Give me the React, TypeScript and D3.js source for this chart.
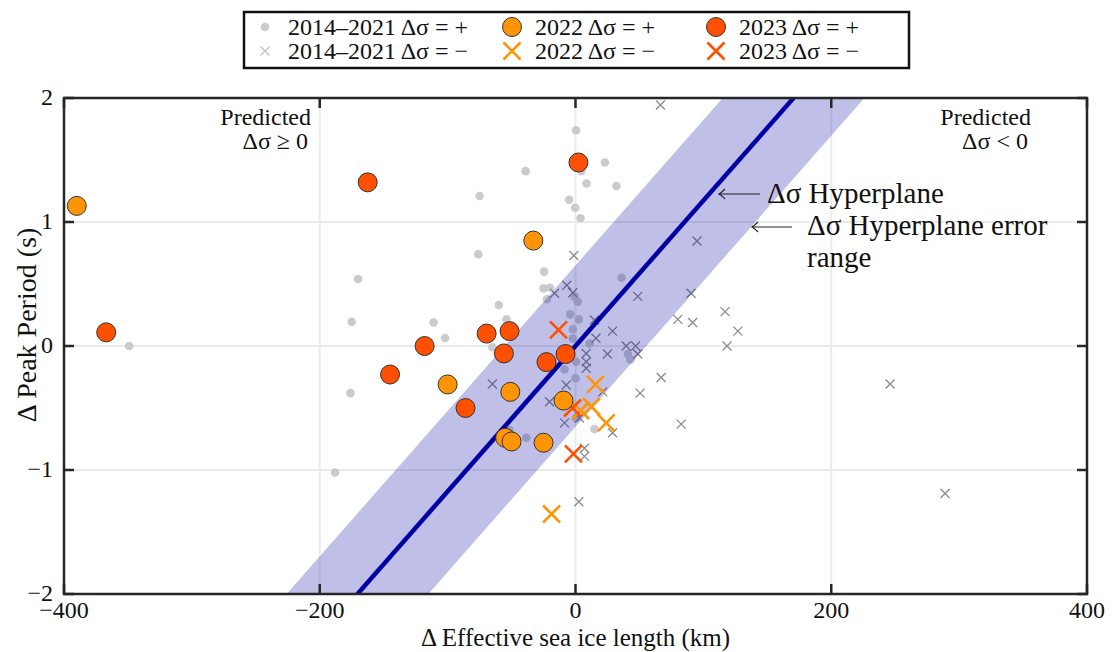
import React from "react";
import * as d3 from "d3";

// 2014–2021 seasons, [Δ effective sea ice length (km), Δ peak period (s)]
const past_plus = [
  [0.5, 1.74], [-39, 1.41], [4.5, 1.41], [23, 1.48], [8.6, 1.31], [32, 1.29],
  [-75, 1.21], [-5, 1.18], [-0.2, 1.115], [3.9, 1.03], [-76, 0.74], [-24.5, 0.6],
  [-170, 0.54], [-175, 0.196], [-111, 0.19], [-102, 0.065], [-176, -0.38], [-349, 0.0],
  [-188, -1.02], [-60, 0.33], [-54, 0.215], [-65, -0.01], [-25, 0.465], [-20, 0.47],
  [-22.4, 0.377], [36, 0.55], [-0.8, 0.4], [1.8, 0.357], [-4.1, 0.255], [2.6, 0.215],
  [-2.1, 0.135], [-2.1, 0.06], [11, 0.02], [0.5, -0.127], [0, -0.26], [-8.6, -0.19],
  [14.8, -0.67], [0.5, -0.58], [41, -0.065], [43, -0.11], [-38.5, -0.74], [-51.6, -0.68]
];
const past_minus = [
  [-1.3, 0.73], [-6.8, 0.49], [-2.1, 0.43], [-16.4, 0.425], [48.7, 0.4], [29, 0.12],
  [16, 0.062], [14.8, 0.21], [39.6, 0.0], [47, 0.0], [25, -0.065], [48.7, -0.065],
  [8.4, -0.06], [8.4, -0.127], [8.4, -0.18], [-65, -0.306], [-20.3, -0.45], [-7.3, -0.315],
  [21.3, -0.37], [50.5, -0.38], [-8.6, -0.62], [3.1, -0.58], [29, -0.7], [7, -0.825],
  [7, -0.89], [2.6, -1.256], [66.4, 1.944], [95, 0.847], [90.4, 0.425], [80, 0.215],
  [91.6, 0.19], [117, 0.277], [127, 0.12], [118.5, 0.0], [67, -0.254], [82.6, -0.63],
  [246, -0.306], [289, -1.19]
];
const y2022_plus = [
  [-390, 1.13], [-33, 0.85], [-100, -0.31], [-51, -0.37], [-9.4, -0.44],
  [-55, -0.74], [-50, -0.77], [-25, -0.78]
];
const y2022_minus = [[15.6, -0.31], [12.5, -0.49], [4, -0.52], [24, -0.62], [-18.7, -1.355]];
const y2023_plus = [
  [-367, 0.11], [-162.5, 1.32], [2.3, 1.48], [-118, 0.0], [-145, -0.23], [-86, -0.5],
  [-69.5, 0.1], [-51.6, 0.12], [-56, -0.06], [-22.7, -0.13], [-7.8, -0.065]
];
const y2023_minus = [[-13.3, 0.13], [-2.3, -0.5], [-1.6, -0.87]];

const xTicks = [-400, -200, 0, 200, 400];
const yTicks = [-2, -1, 0, 1, 2];

// Δσ hyperplane: Δ period = slope * Δ length, ± error
const hyperSlope = 1 / 85.25;
const hyperError = 0.65;

const ORANGE = "#ff9505";
const RED = "#ff4f00";
const GREY_DOT = "#c9cccc";
const GREY_X = "#8a8a8a";
const BLUE = "#0000a4";
const FONT = "Liberation Serif, serif";

const W = 1112, H = 652;
const m = { left: 64, right: 1087, top: 98, bottom: 594 };

const cross = (h: number) => `M${-h},${-h}L${h},${h}M${-h},${h}L${h},${-h}`;

const Arrow = ({ x1, x2, y }: { x1: number; x2: number; y: number }) => (
  <g stroke="#222" strokeWidth={1.2} fill="none">
    <line x1={x1} x2={x2} y1={y} y2={y} />
    <path d={`M${x1 + 6},${y - 5}Q${x1 + 2},${y - 1} ${x1},${y}Q${x1 + 2},${y + 1} ${x1 + 6},${y + 5}`} />
  </g>
);

export default function App() {
  const x = d3.scaleLinear().domain([-400, 400]).range([m.left, m.right]);
  const y = d3.scaleLinear().domain([-2, 2]).range([m.bottom, m.top]);

  const band = d3
    .area<number>()
    .x(d => x(d))
    .y0(d => y(d * hyperSlope - hyperError))
    .y1(d => y(d * hyperSlope + hyperError));
  const line = d3
    .line<number>()
    .x(d => x(d))
    .y(d => y(d * hyperSlope));
  const xs = [-400, 400];

  const legendCols = [265, 512, 716];
  const legendRows = [27, 51];
  const labels = ["2014–2021", "2022", "2023"];

  return (
    <svg width={W} height={H} style={{ position: "absolute", left: 0, top: 0 }} fontFamily={FONT}>
      <defs>
        <clipPath id="plot">
          <rect x={m.left} y={m.top} width={m.right - m.left} height={m.bottom - m.top} />
        </clipPath>
      </defs>
      <rect width={W} height={H} fill="white" />

      {/* grid */}
      <g stroke="#ebebeb" strokeWidth={2}>
        {xTicks.slice(1, -1).map(t => (
          <line key={t} x1={x(t)} x2={x(t)} y1={m.top} y2={m.bottom} />
        ))}
        {yTicks.slice(1, -1).map(t => (
          <line key={t} y1={y(t)} y2={y(t)} x1={m.left} x2={m.right} />
        ))}
      </g>

      <g clipPath="url(#plot)">
        {past_plus.map((d, i) => (
          <circle key={i} cx={x(d[0])} cy={y(d[1])} r={4.3} fill={GREY_DOT} />
        ))}
        {past_minus.map((d, i) => (
          <path key={i} transform={`translate(${x(d[0])},${y(d[1])})`} d={cross(4.5)} stroke={GREY_X} strokeWidth={1.3} />
        ))}
        <path d={band(xs) || ""} fill={BLUE} fillOpacity={0.25} />
        <path d={line(xs) || ""} stroke={BLUE} strokeWidth={4.5} fill="none" />
        {y2022_minus.map((d, i) => (
          <path key={i} transform={`translate(${x(d[0])},${y(d[1])})`} d={cross(8.5)} stroke={ORANGE} strokeWidth={2.6} />
        ))}
        {y2023_minus.map((d, i) => (
          <path key={i} transform={`translate(${x(d[0])},${y(d[1])})`} d={cross(8.5)} stroke={RED} strokeWidth={2.6} />
        ))}
        {y2022_plus.map((d, i) => (
          <circle key={i} cx={x(d[0])} cy={y(d[1])} r={9.5} fill={ORANGE} stroke="#333" strokeWidth={1} />
        ))}
        {y2023_plus.map((d, i) => (
          <circle key={i} cx={x(d[0])} cy={y(d[1])} r={9.5} fill={RED} stroke="#333" strokeWidth={1} />
        ))}
      </g>

      {/* axes box and ticks */}
      <rect x={m.left} y={m.top} width={m.right - m.left} height={m.bottom - m.top} fill="none" stroke="#262626" strokeWidth={2.5} />
      <g stroke="#262626" strokeWidth={2.5}>
        {xTicks.map(t => (
          <g key={t}>
            <line x1={x(t)} x2={x(t)} y1={m.bottom} y2={m.bottom - 10} />
            <line x1={x(t)} x2={x(t)} y1={m.top} y2={m.top + 10} />
          </g>
        ))}
        {yTicks.map(t => (
          <g key={t}>
            <line y1={y(t)} y2={y(t)} x1={m.left} x2={m.left + 10} />
            <line y1={y(t)} y2={y(t)} x1={m.right} x2={m.right - 10} />
          </g>
        ))}
      </g>
      <g fontSize={24} fill="#111">
        {xTicks.map(t => (
          <text key={t} x={x(t)} y={m.bottom + 24} textAnchor="middle">
            {t < 0 ? "−" + Math.abs(t) : t}
          </text>
        ))}
        {yTicks.map(t => (
          <text key={t} x={m.left - 11} y={y(t) + 7} textAnchor="end">
            {t < 0 ? "−" + Math.abs(t) : t}
          </text>
        ))}
      </g>
      <text x={(m.left + m.right) / 2} y={646} textAnchor="middle" fontSize={25} fill="#111">
        Δ Effective sea ice length (km)
      </text>
      <text transform={`translate(36,325) rotate(-90)`} textAnchor="middle" fontSize={28} fill="#111">
        Δ Peak Period (s)
      </text>

      {/* annotations */}
      <g fontSize={24} fill="#111" textAnchor="end">
        <text x={311} y={125}>Predicted</text>
        <text x={308} y={149}>Δσ ≥ 0</text>
        <text x={1031} y={125}>Predicted</text>
        <text x={1028} y={149}>Δσ &lt; 0</text>
      </g>
      <g fontSize={29} fill="#111">
        <Arrow x1={719} x2={760} y={194} />
        <text x={767} y={203}>Δσ Hyperplane</text>
        <Arrow x1={752} x2={792} y={227} />
        <text x={807} y={235}>Δσ Hyperplane error</text>
        <text x={807} y={267}>range</text>
      </g>

      {/* legend */}
      <rect x={244} y={12} width={665} height={56} fill="white" stroke="#111" strokeWidth={2.5} />
      {legendCols.map((cx, c) => (
        <g key={c}>
          {c === 0 ? (
            <>
              <circle cx={cx} cy={legendRows[0]} r={4.3} fill={GREY_DOT} />
              <path transform={`translate(${cx},${legendRows[1]})`} d={cross(4.5)} stroke="#c0c0c0" strokeWidth={1.3} />
            </>
          ) : (
            <>
              <circle cx={cx} cy={legendRows[0]} r={9.5} fill={c === 1 ? ORANGE : RED} stroke="#333" strokeWidth={1} />
              <path transform={`translate(${cx},${legendRows[1]})`} d={cross(8.5)} stroke={c === 1 ? ORANGE : RED} strokeWidth={2.6} />
            </>
          )}
          {legendRows.map((ry, r) => (
            <text key={r} x={cx + 23} y={ry + 8} fontSize={24} fill="#111">
              {labels[c]} Δσ = {r === 0 ? "+" : "−"}
            </text>
          ))}
        </g>
      ))}
    </svg>
  );
}
